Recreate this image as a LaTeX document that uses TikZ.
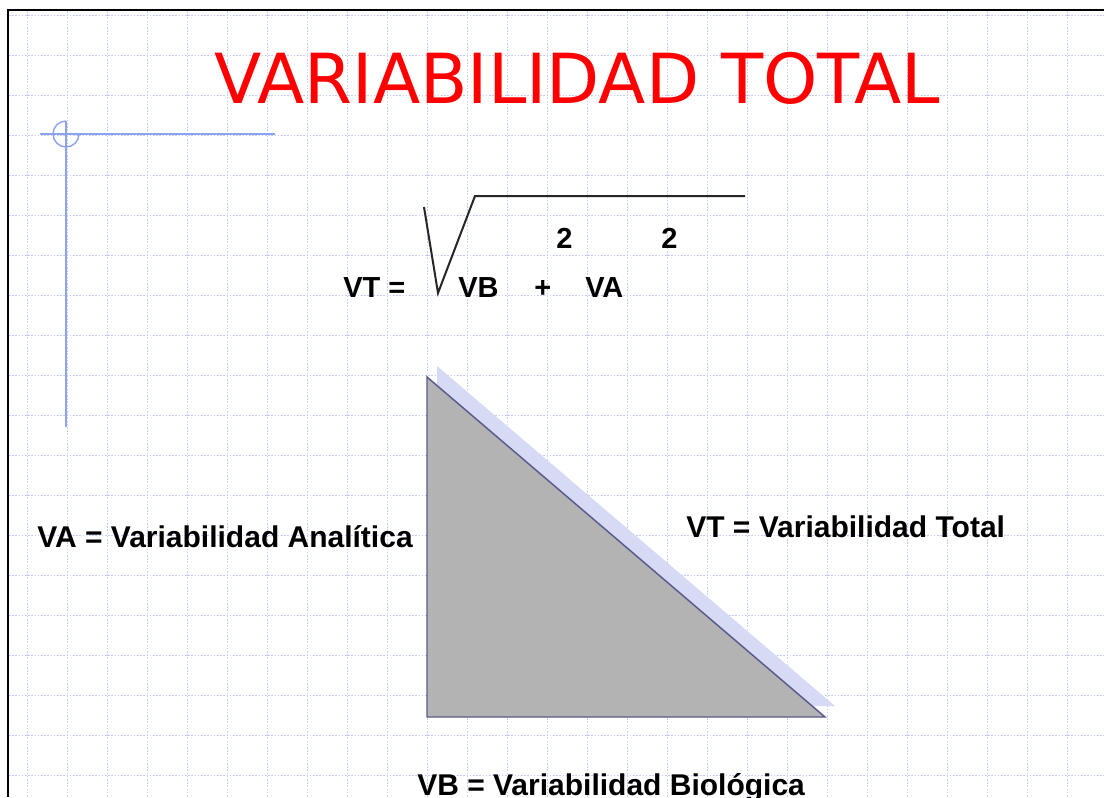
\documentclass[tikz,border=0pt]{standalone}
\usepackage{fontspec}
\setmainfont{Liberation Sans}
\newfontfamily\titlefont{DejaVu Sans}
\definecolor{gridblue}{HTML}{C2CCF6}
\definecolor{crossblue}{HTML}{8EA3F0}
\definecolor{shadowblue}{HTML}{D6DAF5}
\definecolor{trifill}{HTML}{B3B3B3}
\definecolor{triedge}{HTML}{5A5A8E}
\definecolor{titlered}{HTML}{FF0000}
\tikzset{
  gridline/.style={gridblue, line width=0.75pt, dash pattern=on 1.2pt off 1.2pt},
  crossline/.style={crossblue, line width=1.1pt},
  lbl/.style={anchor=base west, inner sep=0pt, font=\bfseries\fontsize{22.5}{27}\selectfont},
  frm/.style={anchor=base west, inner sep=0pt, font=\bfseries\fontsize{21.75}{26}\selectfont},
}
\begin{document}
\begin{tikzpicture}[x=0.75pt,y=-0.75pt]
\useasboundingbox (0,0) rectangle (1104,797);
\fill[white] (0,0) rectangle (1104,797);
% grid
\foreach \gx in {27,67,...,1067} \draw[gridline] (\gx,11) -- (\gx,797);
\foreach \gy in {15,55,...,775} \draw[gridline] (9,\gy) -- (1104,\gy);
% frame
\draw[black, line width=1.9pt] (8,797) -- (8,10) -- (1104,10);
% title
\node[anchor=base, inner sep=0pt, text=titlered, font=\titlefont\fontsize{51.8}{60}\selectfont] (title) at (577.5,103) {VARIABILIDAD TOTAL};
% crosshair
\draw[crossline] (40,134) -- (275,134);
\draw[crossline] (66,121) -- (66,427);
\draw[crossline] (66,121) arc[start angle=-90, end angle=-360, radius=13];
% formula
\node[frm] (vt) at (343,297) {VT =};
\node[frm] (vb) at (458,297) {VB};
\node[frm] (plus) at (534,297) {+};
\node[frm] (va) at (585,297) {VA};
\node[frm] (e1) at (556,248) {2};
\node[frm] (e2) at (661,248) {2};
\draw[black!85, line width=1.5pt, line join=miter] (424,207) -- (438,293) -- (475,196) -- (745,196);
% triangle with shadow
\fill[shadowblue] (437,366) -- (437,706) -- (835,706) -- cycle;
\filldraw[fill=trifill, draw=triedge, line width=1.1pt] (427,377) -- (427,717) -- (825,717) -- cycle;
% labels
\node[lbl] (lva) at (37,547) {VA = Variabilidad Analítica};
\node[lbl] (lvt) at (686,537) {VT = Variabilidad Total};
\node[lbl] (lvb) at (417,795) {VB = Variabilidad Biológica};
\end{tikzpicture}
\end{document}
